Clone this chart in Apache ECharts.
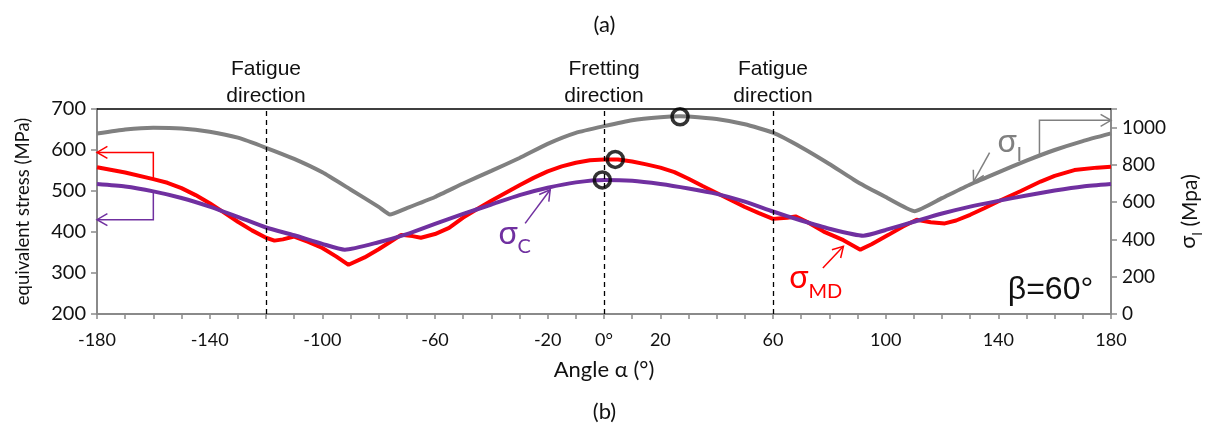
<!DOCTYPE html>
<html><head><meta charset="utf-8">
<script src="https://cdn.jsdelivr.net/npm/echarts@6/dist/echarts.min.js"></script>
<style>html,body{margin:0;padding:0;background:#fff}#c{width:1209px;height:427px}</style>
</head><body><div id="c"></div>
<script>
// ---- data ----
const xLabelValues = [-180, -140, -100, -60, -20, 0, 20, 60, 100, 140, 180];
const directionLines = [-120, 0, 60];
const directionNames = ['Fatigue\ndirection', 'Fretting\ndirection', 'Fatigue\ndirection'];
// sigma_I (right axis, MPa)
const sigmaI = [[-180,968],[-170,990],[-160,1000],[-150,996],[-140,978],[-130,946],[-120,892],[-110,832],[-100,760],[-90,668],[-80,575],[-76,534],[-70,568],[-60,628],[-50,700],[-40,768],[-30,837],[-20,913],[-10,972],[0,1008],[10,1040],[20,1056],[27,1061],[30,1060],[40,1046],[50,1018],[60,973],[70,895],[80,805],[90,708],[100,628],[110.3,552],[120,622],[130,695],[140,760],[150,823],[160,880],[170,928],[180,969]];
// sigma_MD (left axis, MPa)
const sigmaMD = [[-180,558],[-170,545],[-160,529],[-155,520],[-150,507],[-145,490],[-140,470],[-135,448],[-130,425],[-125,404],[-120,386],[-117,379],[-114,382],[-110,389],[-105,376],[-100,361],[-95,340],[-90.7,320],[-85,338],[-80,358],[-75,380],[-72,393],[-68,390],[-65,386],[-60,395],[-55,410],[-50,435],[-45,456],[-40,476],[-35,495],[-30,514],[-25,532],[-20,548],[-15,560],[-10,569],[-5,575],[0,577],[5,577],[10,572],[15,565],[20,557],[25,546],[30,530],[35,512],[40,495],[45,478],[50,461],[55,446],[60,432],[65,435],[68,438],[72,425],[78,401],[85,380],[91,357],[95,370],[101,393],[106,413],[111,430],[116,424],[121,421],[125,428],[130,442],[135,458],[141,478],[148,500],[155,523],[160,537],[167,551],[175,557],[180,559]];
// sigma_C (left axis, MPa)
const sigmaC = [[-180,517],[-170,511],[-160,499],[-150,483],[-140,462],[-130,437],[-120,411],[-110,392],[-100,371],[-92,357],[-80,375],[-70,395],[-60,420],[-50,444],[-40,467],[-30,490],[-20,508],[-10,521],[0,527],[10,525],[20,517],[30,506],[40,493],[50,474],[60,450],[70,428],[80,408],[92,391],[100,405],[110,425],[120,445],[130,462],[140,476],[150,489],[160,501],[170,511],[180,517]];
// highlighted maxima (left axis units)
const maxima = [[27,681],[4,577],[-0.6,527]];

const GRAY = '#808080', RED = '#FF0000', PURPLE = '#7030A0';
const LAB = 'Lato, "Open Sans", sans-serif';
const ARIAL = '"Liberation Sans", Arial, sans-serif';

const chart = echarts.init(document.getElementById('c'));
chart.setOption({
  animation: false,
  title: [
    {text: '(a)', left: 'center', top: 9, textStyle: {fontSize: 22, fontWeight: 'normal', fontFamily: LAB, color: '#111'}},
    {text: '(b)', left: 'center', top: 396, textStyle: {fontSize: 22, fontWeight: 'normal', fontFamily: LAB, color: '#111'}}
  ],
  grid: {left: 97, right: 98, top: 109, bottom: 113, containLabel: false, outerBoundsMode: 'none'},
  xAxis: [{
    type: 'value', min: -180, max: 180, interval: 10,
    axisLine: {onZero: false, lineStyle: {color: '#8a8a8a', width: 2}},
    axisTick: {length: 5, lineStyle: {color: '#8a8a8a', width: 1.5}},
    splitLine: {show: false},
    axisLabel: {margin: 17, fontSize: 18, fontFamily: LAB, color: '#111',
      formatter: v => { const r = Math.round(v); if (r === 0) return '0°'; return xLabelValues.includes(r) ? String(r) : ''; }},
    name: 'Angle α (°)', nameLocation: 'middle', nameGap: 45,
    nameTextStyle: {fontSize: 22, fontFamily: LAB, color: '#111'}
  }, {
    type: 'value', min: -180, max: 180, position: 'top',
    axisLine: {show: true, onZero: false, lineStyle: {color: '#000', width: 1.5}},
    axisTick: {show: false}, axisLabel: {show: false}, splitLine: {show: false}
  }],
  yAxis: [{
    type: 'value', min: 200, max: 700, interval: 100, position: 'left',
    axisLine: {show: true, onZero: false, lineStyle: {color: '#8a8a8a', width: 2}},
    axisTick: {show: true, length: 6, lineStyle: {color: '#8a8a8a', width: 1.5}},
    splitLine: {show: false},
    axisLabel: {margin: 11, fontSize: 20, fontFamily: LAB, color: '#111'},
    name: 'equivalent stress (MPa)', nameLocation: 'middle', nameGap: 64, nameRotate: 90,
    nameTextStyle: {fontSize: 18.5, fontFamily: LAB, color: '#111'}
  }, {
    type: 'value', min: 0, max: 1100, interval: 200, position: 'right',
    axisLine: {show: true, onZero: false, lineStyle: {color: '#8a8a8a', width: 2}},
    axisTick: {show: true, length: 6, lineStyle: {color: '#8a8a8a', width: 1.5}},
    splitLine: {show: false},
    axisLabel: {margin: 11, fontSize: 19, fontFamily: LAB, color: '#111', formatter: v => v > 1000 ? '' : String(v)},
    name: '{s|σ}{b|I} (Mpa)', nameLocation: 'middle', nameGap: 66, nameRotate: 90,
    nameTextStyle: {fontSize: 21, fontFamily: LAB, color: '#111',
      rich: {s: {fontSize: 22, fontFamily: LAB, padding: [0,0,5,0], verticalAlign: 'bottom', color: '#111'},
             b: {fontSize: 13, fontFamily: LAB, verticalAlign: 'bottom', color: '#111'}}}
  }],
  series: [
    {type: 'line', name: 'sigmaI', yAxisIndex: 1, data: sigmaI, showSymbol: false, smooth: 0.15,
     lineStyle: {color: GRAY, width: 4}, z: 2},
    {type: 'line', name: 'sigmaMD', yAxisIndex: 0, data: sigmaMD, showSymbol: false,
     lineStyle: {color: RED, width: 4}, z: 3},
    {type: 'line', name: 'sigmaC', yAxisIndex: 0, data: sigmaC, showSymbol: false, smooth: 0.2,
     lineStyle: {color: PURPLE, width: 4}, z: 4,
     markLine: {silent: true, symbol: ['none', 'none'],
       lineStyle: {color: '#000', type: [5, 4], width: 1.3},
       label: {show: true, position: 'end', distance: -1, formatter: p => directionNames[directionLines.indexOf(p.value)],
         fontSize: 21, lineHeight: 27, fontFamily: ARIAL, color: '#111'},
       data: directionLines.map(v => ({xAxis: v}))}},
    {type: 'scatter', yAxisIndex: 0, data: maxima, symbol: 'circle', symbolSize: 16,
     itemStyle: {color: 'rgba(0,0,0,0)', borderColor: '#000', borderWidth: 3.6}, z: 6}
  ]
});

// ---- annotations placed in data coordinates ----
function px(x, y, yi) { return chart.convertToPixel({xAxisIndex: 0, yAxisIndex: yi}, [x, y]); }
function arrowPath(pts, color, w) {
  const n = pts.length, E = pts[n - 1], S = pts[n - 2];
  let dx = E[0] - S[0], dy = E[1] - S[1]; const L = Math.hypot(dx, dy); dx /= L; dy /= L;
  const a = Math.PI / 6, s = 12;
  const r = (ang) => [E[0] - s * (dx * Math.cos(ang) - dy * Math.sin(ang)), E[1] - s * (dx * Math.sin(ang) + dy * Math.cos(ang))];
  return [
    {type: 'polyline', shape: {points: pts}, style: {stroke: color, lineWidth: w, fill: null}, z: 10},
    {type: 'polyline', shape: {points: [r(a), E, r(-a)]}, style: {stroke: color, lineWidth: w, fill: null}, z: 10}
  ];
}
function sigmaLabel(pos, sub, color) {
  return {type: 'text', x: pos[0], y: pos[1], z: 10,
    style: {text: '{s|σ}{b|' + sub + '}', fill: color, verticalAlign: 'middle', align: 'left',
      rich: {s: {fontSize: 32, fontFamily: LAB, fill: color, padding: [0,0,7,0], verticalAlign: 'bottom'},
             b: {fontSize: 20, fontFamily: LAB, fill: color, verticalAlign: 'bottom'}}}};
}
const g = [];
g.push(...arrowPath([px(-160, 529, 0), px(-160, 594, 0), px(-180, 594, 0)], RED, 1.5));
g.push(...arrowPath([px(-160, 499, 0), px(-160, 430, 0), px(-180, 430, 0)], PURPLE, 1.5));
g.push(...arrowPath([px(154.6, 856, 1), px(154.6, 1039, 1), px(180, 1039, 1)], GRAY, 1.5));
g.push(...arrowPath([px(136.9, 866, 1), px(131.2, 710, 1)], GRAY, 1.5));
g.push(...arrowPath([px(-28, 421, 0), px(-19.1, 503, 0)], PURPLE, 1.5));
g.push(...arrowPath([px(77.7, 312, 0), px(85.0, 365, 0)], RED, 1.5));
g.push(sigmaLabel(px(139.7, 905, 1), 'I', GRAY));
g.push(sigmaLabel(px(-37.5, 388, 0), 'C', PURPLE));
g.push(sigmaLabel(px(65.8, 279, 0), 'MD', RED));
const bp = px(173.7, 257, 0);
g.push({type: 'text', x: bp[0], y: bp[1], z: 10,
  style: {text: 'β=60°', fill: '#111', font: '32px "Liberation Sans", Arial, sans-serif', align: 'right', verticalAlign: 'middle'}});
chart.setOption({graphic: g});
</script>
</body></html>
